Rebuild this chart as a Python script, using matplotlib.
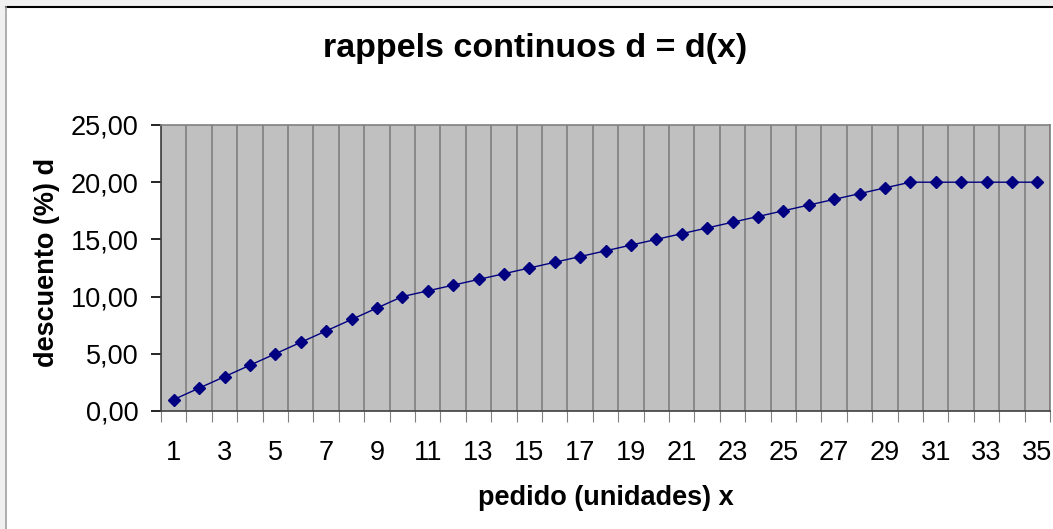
import matplotlib
matplotlib.use("Agg")
import matplotlib.pyplot as plt
from matplotlib.patches import Rectangle
from matplotlib.lines import Line2D
from matplotlib.ticker import FixedLocator, FuncFormatter

plt.rcParams["font.family"] = ["Liberation Sans", "DejaVu Sans"]

# ── data ─────────────────────────────────────
pedido = list(range(1, 36))
descuento = [1, 2, 3, 4, 5, 6, 7, 8, 9, 10,
             10.5, 11, 11.5, 12, 12.5, 13, 13.5, 14, 14.5, 15,
             15.5, 16, 16.5, 17, 17.5, 18, 18.5, 19, 19.5, 20,
             20, 20, 20, 20, 20]
x_labels = list(range(1, 36, 2))
y_ticks = [0, 5, 10, 15, 20, 25]

TITLE = "rappels continuos d = d(x)"
XLABEL = "pedido (unidades) x"
YLABEL = "descuento (%) d"

NAVY = "#000080"
GRID = "#808080"

fig = plt.figure(figsize=(10.53, 5.29), dpi=100)
fig.patch.set_facecolor("white")

# window-ish frame around the chart
fig.add_artist(Rectangle((0, 1 - 7 / 529), 1, 7 / 529, transform=fig.transFigure,
                         facecolor="#f0f0f0", edgecolor="none"))
fig.add_artist(Rectangle((0, 0), 6 / 1053, 1, transform=fig.transFigure,
                         facecolor="#f0f0f0", edgecolor="none"))
fig.add_artist(Line2D([6 / 1053, 1], [1 - 7 / 529, 1 - 7 / 529], transform=fig.transFigure,
                      color="black", lw=1.5))
fig.add_artist(Line2D([6 / 1053, 6 / 1053], [0, 1 - 7 / 529], transform=fig.transFigure,
                      color="#a0a0a0", lw=1.2))

ax = fig.add_axes([161 / 1053, 1 - 411 / 529, (1050 - 161) / 1053, (411 - 125) / 529])
ax.set_facecolor("#c0c0c0")

ax.plot(pedido, descuento, color=NAVY, lw=1.0, marker="D", markersize=6.5,
        markerfacecolor=NAVY, markeredgecolor=NAVY, zorder=3)

ax.set_xlim(0.5, 35.5)
ax.set_ylim(0, 25)

# category boundaries: gridlines + tick marks
bounds = [i + 0.5 for i in range(0, 36)]
ax.xaxis.set_minor_locator(FixedLocator(bounds))
ax.xaxis.set_major_locator(FixedLocator(x_labels))
ax.tick_params(axis="x", which="minor", length=8, width=0.8, color=GRID)
ax.tick_params(axis="x", which="major", length=0, labelsize=19.5, pad=21)
ax.grid(True, which="minor", axis="x", color=GRID, lw=1.2)
ax.grid(False, which="major")

ax.set_yticks(y_ticks)
ax.yaxis.set_major_formatter(FuncFormatter(lambda v, p: f"{v:.2f}".replace(".", ",")))
ax.tick_params(axis="y", length=7, width=1.2, color="black", labelsize=19.5, pad=9)

for s in ["top", "right"]:
    ax.spines[s].set_color(GRID)
    ax.spines[s].set_linewidth(1.2)
ax.spines["left"].set_color("#404040")
ax.spines["bottom"].set_color("#404040")
ax.spines["left"].set_linewidth(1.2)
ax.spines["bottom"].set_linewidth(1.2)

fig.text(535 / 1053, 1 - 48 / 529, TITLE, ha="center", va="center",
         fontsize=24.5, fontweight="bold")
fig.text(606 / 1053, 1 - 498 / 529, XLABEL, ha="center", va="center",
         fontsize=19.5, fontweight="bold")
fig.text(47 / 1053, 1 - 262 / 529, YLABEL, ha="center", va="center", rotation=90,
         fontsize=19.5, fontweight="bold")

fig.savefig("out.png", dpi=100)
